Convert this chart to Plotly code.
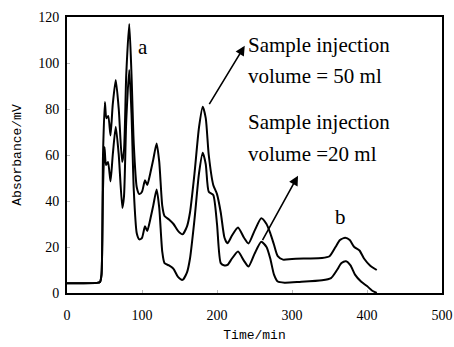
import plotly.graph_objects as go

# Sample injection volume = 50 ml (upper curve)
t_50 = [0, 20, 40, 44, 46, 48, 50.5, 52.5, 55, 58, 61, 65, 69, 73.5, 76, 79, 83, 86, 89, 93, 96.5,
        100, 104, 107, 111, 115, 119.5, 123, 127, 130, 136, 142, 148, 154, 160, 164, 170, 176, 181,
        185, 189, 195, 200, 205, 210, 214, 220, 228, 236, 242, 250, 259, 266, 271, 276, 281, 288,
        300, 320, 340, 350, 358, 364, 371, 377, 383, 390, 396, 404, 413]
v_50 = [4.2, 4.2, 4.4, 4.8, 8, 60, 83, 76, 77, 68.5, 82, 92.6, 80, 57, 62, 95, 117, 95, 65, 46, 43,
        44, 49, 47, 52, 58, 65, 57, 38, 33.5, 32, 30, 27, 25.5, 29, 35, 52, 72, 81,
        76, 60, 47, 43, 35, 24, 21.6, 25, 28.5, 24, 21.5, 27, 32.5, 30, 26, 21, 16, 14.5,
        14.8, 15, 15.2, 16, 20, 23, 24, 23, 20, 18.5, 15, 12, 10]

# Sample injection volume = 20 ml (lower curve)
t_20 = [0, 20, 40, 44, 46, 48, 50, 52, 54.7, 58, 61, 65, 69, 73.8, 76, 79, 83, 86, 89, 93, 96.5,
        100, 104, 107, 111, 115, 119.5, 123, 127, 130, 136, 142, 148, 154, 160, 164, 170, 176, 181,
        185, 189, 195, 200, 205, 210, 214, 220, 228, 236, 242, 250, 259, 266, 271, 276, 281, 290,
        310, 340, 352, 360, 366, 372, 378, 384, 392, 400, 407, 413]
v_20 = [4.2, 4.2, 4.4, 4.8, 8, 45, 63.5, 55.6, 57, 48.5, 60, 72.3, 60, 37, 42, 75, 97, 78, 45, 26, 23.3,
        24, 29, 27, 32, 38, 45, 37, 18, 13, 12, 10.5, 7, 5.7, 9, 15, 32, 52, 61,
        56, 44, 42.6, 30, 13, 12, 12.2, 15, 18, 14, 11.5, 17, 22.3, 20, 15, 8, 5, 4.5,
        4.8, 5.5, 6.5, 10, 13, 13.8, 12, 8, 5, 3, 1, 0]

x_ticks = [0, 100, 200, 300, 400, 500]
y_ticks = [0, 20, 40, 60, 80, 100, 120]

fig = go.Figure()
fig.add_trace(go.Scatter(x=t_50, y=v_50, mode="lines", line=dict(color="black", width=2, shape="spline", smoothing=0.6),
                         showlegend=False, hoverinfo="skip"))
fig.add_trace(go.Scatter(x=t_20, y=v_20, mode="lines", line=dict(color="black", width=2, shape="spline", smoothing=0.6),
                         showlegend=False, hoverinfo="skip"))

serif = "Liberation Serif"
txt = dict(family=serif, size=21, color="black")
fig.add_annotation(x=101, y=107, text="a", showarrow=False, font=txt)
fig.add_annotation(x=365, y=33, text="b", showarrow=False, font=txt)
fig.add_annotation(x=239, y=108, text="Sample injection", showarrow=False, font=txt, xanchor="left")
fig.add_annotation(x=239, y=94.5, text="volume = 50 ml", showarrow=False, font=txt, xanchor="left")
fig.add_annotation(x=239, y=74.5, text="Sample injection", showarrow=False, font=txt, xanchor="left")
fig.add_annotation(x=239, y=60.5, text="volume =20 ml", showarrow=False, font=txt, xanchor="left")
# arrows
fig.add_annotation(x=237, y=107.5, ax=188.5, ay=81.5, xref="x", yref="y", axref="x", ayref="y",
                   text="", showarrow=True, arrowhead=2, arrowsize=1.2, arrowwidth=1.6, arrowcolor="black")
fig.add_annotation(x=308, y=51, ax=259.6, ay=22.3, xref="x", yref="y", axref="x", ayref="y",
                   text="", showarrow=True, arrowhead=2, arrowsize=1.2, arrowwidth=1.6, arrowcolor="black")

fig.update_layout(
    width=454, height=347,
    margin=dict(l=67, r=12, t=17, b=54),
    paper_bgcolor="white", plot_bgcolor="white",
    xaxis=dict(range=[0, 500], tickvals=x_ticks, showgrid=False, zeroline=False, automargin=False,
               showline=True, linecolor="black", linewidth=2, mirror=True,
               ticks="inside", ticklen=3, tickcolor="#bbbbbb", ticklabelstandoff=8,
               tickfont=dict(family=serif, size=14, color="black"),
               title=dict(text="Time/min", font=dict(family="Liberation Mono", size=13, color="black"), standoff=8)),
    yaxis=dict(range=[0, 120], tickvals=y_ticks, showgrid=False, zeroline=False, automargin=False,
               showline=True, linecolor="black", linewidth=2, mirror=True,
               ticks="inside", ticklen=3, tickcolor="#bbbbbb", ticklabelstandoff=3,
               tickfont=dict(family=serif, size=14, color="black"),
               title=dict(text="Absorbance/mV", font=dict(family="Liberation Mono", size=13, color="black"), standoff=14)),
)

fig.write_html("out.html", config={"displayModeBar": False},
               post_script="document.body.style.margin='0';document.body.style.overflow='hidden';")
